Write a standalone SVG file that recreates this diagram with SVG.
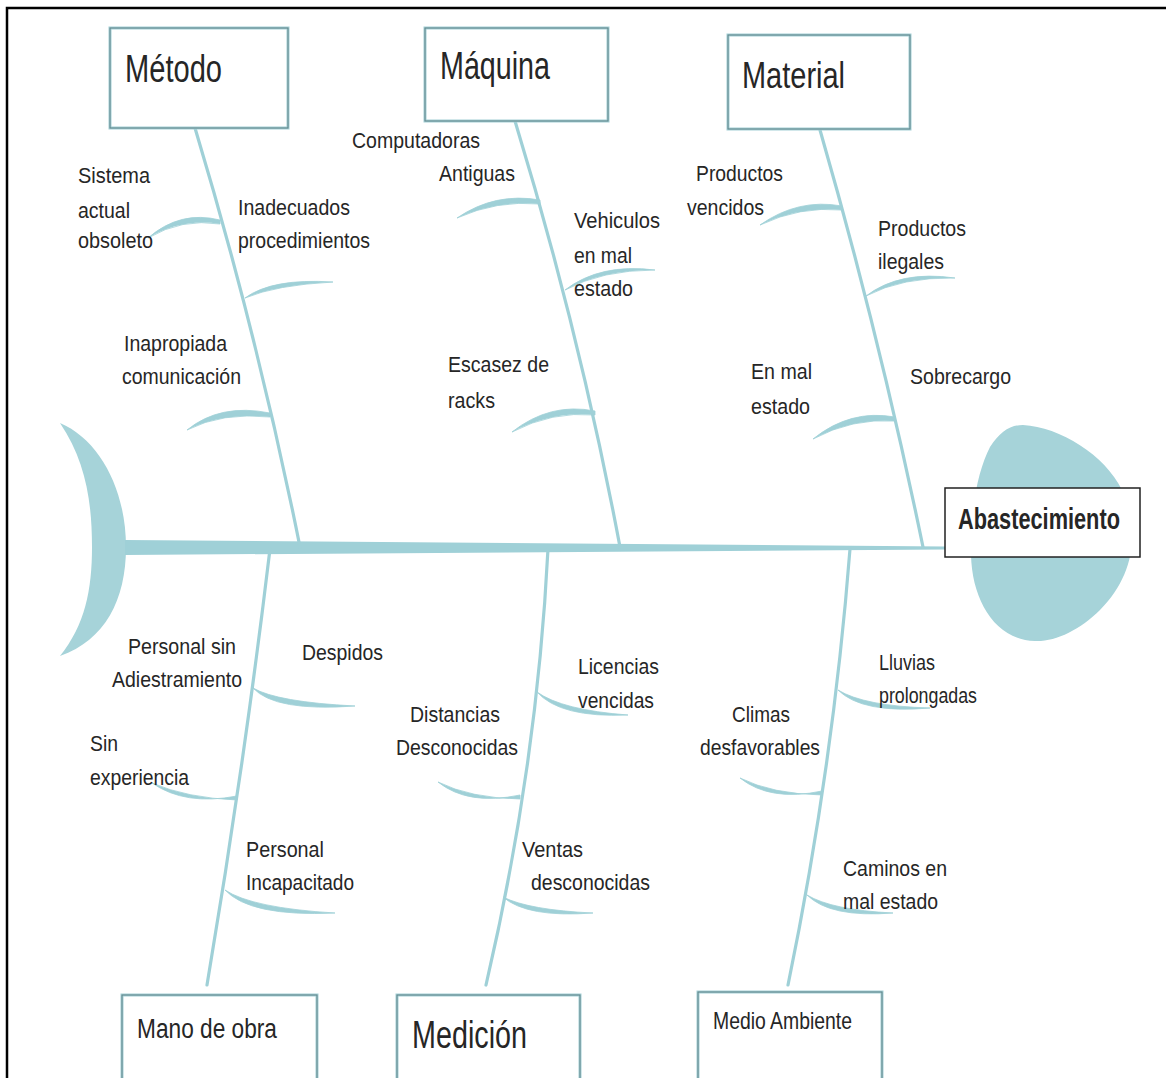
<svg xmlns="http://www.w3.org/2000/svg" width="1166" height="1078" viewBox="0 0 1166 1078">
<style>
.bone{fill:none;stroke:#9fd0d7;stroke-width:3.2;stroke-linecap:round}
.rib{fill:#9fd0d7;stroke:#9fd0d7;stroke-width:0.8}
.box{fill:#fff;stroke:#a3cfd5;stroke-width:3}
.boxl{fill:none;stroke:#5f8287;stroke-width:1}
.t{font-family:"Liberation Sans",Arial,sans-serif;fill:#262626}
.lbl{font-size:22px}
</style>
<rect x="0" y="0" width="1166" height="1078" fill="#fff"/>
<rect x="7" y="8" width="1175" height="1090" fill="none" stroke="#000" stroke-width="2.5"/>

<g id="fish">
  <path id="tail" d="M60,423 C100,440 126,490 126,547 C126,600 105,640 60,656 C85,625 92,590 92,547 C92,500 85,460 60,423 Z" fill="#a6d3d9"/>
  <path id="head" d="M1023,425 C1060,427 1105,455 1122,490 C1140,530 1135,575 1100,610 C1080,630 1055,642 1035,641 C995,640 972,600 971,555 C970,510 978,470 990,447 C1000,432 1010,425 1023,425 Z" fill="#a6d3d9"/>
</g>

<g id="connectors">
  <path d="M125,540 L945,546.5 L945,549.5 L125,555 Z" fill="#9fd0d7"/>
  <path class="bone" d="M195,128 Q258,337 300,547"/>
  <path class="bone" d="M515,121 Q580,334 620,547"/>
  <path class="bone" d="M820,130 Q880,338 923,547"/>
  <path class="bone" d="M270,549 Q244,767 207,985"/>
  <path class="bone" d="M548,549 Q537,767 486,985"/>
  <path class="bone" d="M850,549 Q833,767 788,985"/>
  <path class="rib" d="M220,220 Q180,210 148,238 Q182,218 220,224 Z"/>
  <path class="rib" d="M245,298 Q272,278 333,282 Q276,285 245,298 Z"/>
  <path class="rib" d="M270,413 Q220,403 187,430 Q222,412 270,417 Z"/>
  <path class="rib" d="M540,200 Q495,192 457,218 Q497,200 540,204 Z"/>
  <path class="rib" d="M565,290 Q600,263 655,270 Q602,270 565,290 Z"/>
  <path class="rib" d="M595,411 Q550,402 512,432 Q552,411 595,415 Z"/>
  <path class="rib" d="M842,206 Q798,198 760,225 Q800,206 842,210 Z"/>
  <path class="rib" d="M866,296 Q900,270 955,278 Q902,277 866,296 Z"/>
  <path class="rib" d="M895,417 Q850,409 813,439 Q852,418 895,421 Z"/>
  <path class="rib" d="M253,688 Q275,712 355,706 Q277,702 253,688 Z"/>
  <path class="rib" d="M237,796 Q185,806 152,783 Q187,798 237,800 Z"/>
  <path class="rib" d="M225,890 Q250,917 335,913 Q252,908 225,890 Z"/>
  <path class="rib" d="M537,692 Q560,718 628,715 Q562,710 537,692 Z"/>
  <path class="rib" d="M520,795 Q468,806 438,782 Q470,798 520,799 Z"/>
  <path class="rib" d="M503,897 Q527,918 593,913 Q529,910 503,897 Z"/>
  <path class="rib" d="M838,690 Q862,714 930,708 Q864,706 838,690 Z"/>
  <path class="rib" d="M822,791 Q770,802 740,778 Q772,794 822,795 Z"/>
  <path class="rib" d="M807,895 Q830,918 893,913 Q832,910 807,895 Z"/>
</g>

<g id="node-metodo">
  <rect class="box" x="110" y="28" width="178" height="100"/>
  <rect class="boxl" x="110" y="28" width="178" height="100"/>
  <text class="t" x="125" y="82" font-size="38" textLength="97" lengthAdjust="spacingAndGlyphs">Método</text>
</g>
<g id="node-maquina">
  <rect class="box" x="425" y="28" width="183" height="93"/>
  <rect class="boxl" x="425" y="28" width="183" height="93"/>
  <text class="t" x="440" y="79" font-size="38" textLength="110" lengthAdjust="spacingAndGlyphs">Máquina</text>
</g>
<g id="node-material">
  <rect class="box" x="728" y="35" width="182" height="94"/>
  <rect class="boxl" x="728" y="35" width="182" height="94"/>
  <text class="t" x="742" y="88" font-size="37" textLength="103" lengthAdjust="spacingAndGlyphs">Material</text>
</g>
<g id="node-mano">
  <rect class="box" x="122" y="995" width="195" height="100"/>
  <rect class="boxl" x="122" y="995" width="195" height="100"/>
  <text class="t" x="137" y="1038" font-size="27" textLength="140" lengthAdjust="spacingAndGlyphs">Mano de obra</text>
</g>
<g id="node-medicion">
  <rect class="box" x="397" y="995" width="183" height="100"/>
  <rect class="boxl" x="397" y="995" width="183" height="100"/>
  <text class="t" x="412" y="1048" font-size="38" textLength="115" lengthAdjust="spacingAndGlyphs">Medición</text>
</g>
<g id="node-medio">
  <rect class="box" x="698" y="992" width="184" height="100"/>
  <rect class="boxl" x="698" y="992" width="184" height="100"/>
  <text class="t" x="713" y="1029" font-size="24" textLength="139" lengthAdjust="spacingAndGlyphs">Medio Ambiente</text>
</g>
<g id="node-effect">
  <rect x="945" y="488" width="195" height="69" fill="#fff" stroke="#222" stroke-width="1.5"/>
  <text class="t" transform="translate(958,529) scale(0.75,1)" x="0" y="0" font-size="29" font-weight="bold" fill="#111">Abastecimiento</text>
</g>

<g id="causes-metodo" class="t lbl">
  <text x="78" y="183" textLength="72" lengthAdjust="spacingAndGlyphs">Sistema</text>
  <text x="78" y="218" textLength="52" lengthAdjust="spacingAndGlyphs">actual</text>
  <text x="78" y="248" textLength="75" lengthAdjust="spacingAndGlyphs">obsoleto</text>
  <text x="238" y="215" textLength="112" lengthAdjust="spacingAndGlyphs">Inadecuados</text>
  <text x="238" y="248" textLength="132" lengthAdjust="spacingAndGlyphs">procedimientos</text>
  <text x="124" y="351" textLength="103" lengthAdjust="spacingAndGlyphs">Inapropiada</text>
  <text x="122" y="384" textLength="119" lengthAdjust="spacingAndGlyphs">comunicación</text>
</g>
<g id="causes-maquina" class="t lbl">
  <text x="352" y="148" textLength="128" lengthAdjust="spacingAndGlyphs">Computadoras</text>
  <text x="439" y="181" textLength="76" lengthAdjust="spacingAndGlyphs">Antiguas</text>
  <text x="574" y="228" textLength="86" lengthAdjust="spacingAndGlyphs">Vehiculos</text>
  <text x="574" y="263" textLength="58" lengthAdjust="spacingAndGlyphs">en mal</text>
  <text x="574" y="296" textLength="59" lengthAdjust="spacingAndGlyphs">estado</text>
  <text x="448" y="372" textLength="101" lengthAdjust="spacingAndGlyphs">Escasez de</text>
  <text x="448" y="408" textLength="47" lengthAdjust="spacingAndGlyphs">racks</text>
</g>
<g id="causes-material" class="t lbl">
  <text x="696" y="181" textLength="87" lengthAdjust="spacingAndGlyphs">Productos</text>
  <text x="687" y="215" textLength="77" lengthAdjust="spacingAndGlyphs">vencidos</text>
  <text x="878" y="236" textLength="88" lengthAdjust="spacingAndGlyphs">Productos</text>
  <text x="878" y="269" textLength="66" lengthAdjust="spacingAndGlyphs">ilegales</text>
  <text x="751" y="379" textLength="61" lengthAdjust="spacingAndGlyphs">En mal</text>
  <text x="751" y="414" textLength="59" lengthAdjust="spacingAndGlyphs">estado</text>
  <text x="910" y="384" textLength="101" lengthAdjust="spacingAndGlyphs">Sobrecargo</text>
</g>
<g id="causes-mano" class="t lbl">
  <text x="128" y="654" textLength="108" lengthAdjust="spacingAndGlyphs">Personal sin</text>
  <text x="112" y="687" textLength="130" lengthAdjust="spacingAndGlyphs">Adiestramiento</text>
  <text x="302" y="660" textLength="81" lengthAdjust="spacingAndGlyphs">Despidos</text>
  <text x="90" y="751" textLength="28" lengthAdjust="spacingAndGlyphs">Sin</text>
  <text x="90" y="785" textLength="99" lengthAdjust="spacingAndGlyphs">experiencia</text>
  <text x="246" y="857" textLength="78" lengthAdjust="spacingAndGlyphs">Personal</text>
  <text x="246" y="890" textLength="108" lengthAdjust="spacingAndGlyphs">Incapacitado</text>
</g>
<g id="causes-medicion" class="t lbl">
  <text x="410" y="722" textLength="90" lengthAdjust="spacingAndGlyphs">Distancias</text>
  <text x="396" y="755" textLength="122" lengthAdjust="spacingAndGlyphs">Desconocidas</text>
  <text x="578" y="674" textLength="81" lengthAdjust="spacingAndGlyphs">Licencias</text>
  <text x="578" y="708" textLength="76" lengthAdjust="spacingAndGlyphs">vencidas</text>
  <text x="522" y="857" textLength="61" lengthAdjust="spacingAndGlyphs">Ventas</text>
  <text x="531" y="890" textLength="119" lengthAdjust="spacingAndGlyphs">desconocidas</text>
</g>
<g id="causes-medio" class="t lbl">
  <text x="879" y="670" textLength="56" lengthAdjust="spacingAndGlyphs">Lluvias</text>
  <text x="879" y="703" textLength="98" lengthAdjust="spacingAndGlyphs">prolongadas</text>
  <text x="732" y="722" textLength="58" lengthAdjust="spacingAndGlyphs">Climas</text>
  <text x="700" y="755" textLength="120" lengthAdjust="spacingAndGlyphs">desfavorables</text>
  <text x="843" y="876" textLength="104" lengthAdjust="spacingAndGlyphs">Caminos en</text>
  <text x="843" y="909" textLength="95" lengthAdjust="spacingAndGlyphs">mal estado</text>
</g>
</svg>
